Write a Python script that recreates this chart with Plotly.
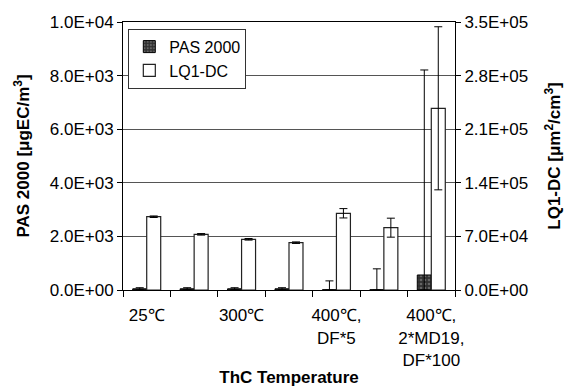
import plotly.graph_objects as go

# ---- data ----
group_index = [0, 1, 2, 3, 4, 5, 6]
tick_positions = [0, 2, 4, 6]
tick_labels = ["25℃", "300℃", "400℃,<br>DF*5", "400℃,<br>2*MD19,<br>DF*100"]

pas_values = [45, 45, 45, 45, 10, 10, 560]
pas_err_plus = [40, 40, 40, 40, 330, 780, 7650]
pas_err_minus = [40, 40, 40, 40, 10, 10, 560]

lq_values = [95700, 72700, 66200, 61800, 100200, 81400, 237300]
lq_err = [1000, 1000, 1000, 1000, 6100, 12400, 106500]

left_tickvals = [0, 2000, 4000, 6000, 8000, 10000]
left_ticktext = ["0.0E+00", "2.0E+03", "4.0E+03", "6.0E+03", "8.0E+03", "1.0E+04"]
right_tickvals = [0, 70000, 140000, 210000, 280000, 350000]
right_ticktext = ["0.0E+00", "7.0E+04", "1.4E+05", "2.1E+05", "2.8E+05", "3.5E+05"]

FONT = "Liberation Sans, Arial, sans-serif"

fig = go.Figure()
fig.add_trace(go.Bar(
    x=group_index, y=pas_values, name="PAS 2000", yaxis="y", offsetgroup="1",
    marker=dict(color="#3a3a3a", line=dict(color="black", width=1),
                pattern=dict(shape=".", fgcolor="#9a9a9a", bgcolor="#303030", size=4, solidity=0.35)),
    error_y=dict(type="data", array=pas_err_plus, arrayminus=pas_err_minus, symmetric=False,
                 color="black", thickness=1, width=4),
))
fig.add_trace(go.Bar(
    x=group_index, y=lq_values, name="LQ1-DC", yaxis="y2", offsetgroup="2",
    marker=dict(color="white", line=dict(color="#222", width=1.2)),
    error_y=dict(type="data", array=lq_err, color="black", thickness=1, width=4),
))

fig.update_layout(
    width=564, height=389,
    margin=dict(l=123, r=109, t=22, b=99, autoexpand=False),
    paper_bgcolor="white", plot_bgcolor="white",
    font=dict(family=FONT, size=17, color="black"),
    barmode="group", bargap=0.41, bargroupgap=0,
    showlegend=True,
    legend=dict(x=0.016, y=0.975, xanchor="left", yanchor="top",
                bordercolor="#333", borderwidth=1, bgcolor="white",
                font=dict(size=16), itemwidth=30, tracegroupgap=0),
    xaxis=dict(
        range=[-0.5, 6.5], tickmode="array", tickvals=tick_positions, ticktext=tick_labels,
        ticks="", showgrid=False, showline=True, linecolor="black", linewidth=1, mirror=True,
        tickfont=dict(size=17), zeroline=False, ticklabelstandoff=10, automargin=False,
        minor=dict(tick0=0.5, dtick=1, ticks="outside", ticklen=6, tickcolor="black", showgrid=False),
        title=dict(text="<b>ThC Temperature</b>", font=dict(size=17), standoff=2),
    ),
    yaxis=dict(
        range=[0, 10000], tickmode="array", tickvals=left_tickvals, ticktext=left_ticktext,
        ticks="outside", ticklen=5, tickcolor="black", automargin=False,
        showgrid=True, gridcolor="#555", gridwidth=1,
        showline=True, linecolor="black", linewidth=1, zeroline=False,
        title=dict(text="<b>PAS 2000 [μgEC/m<sup>3</sup>]</b>", font=dict(size=17), standoff=15),
    ),
    yaxis2=dict(
        range=[0, 350000], tickmode="array", tickvals=right_tickvals, ticktext=right_ticktext,
        overlaying="y", side="right", automargin=False,
        ticks="outside", ticklen=5, tickcolor="black", showgrid=False,
        showline=True, linecolor="black", linewidth=1, zeroline=False,
        title=dict(text="<b>LQ1-DC [μm<sup>2</sup>/cm<sup>3</sup>]</b>", font=dict(size=17), standoff=27),
    ),
)

fig.write_html("out.html")
